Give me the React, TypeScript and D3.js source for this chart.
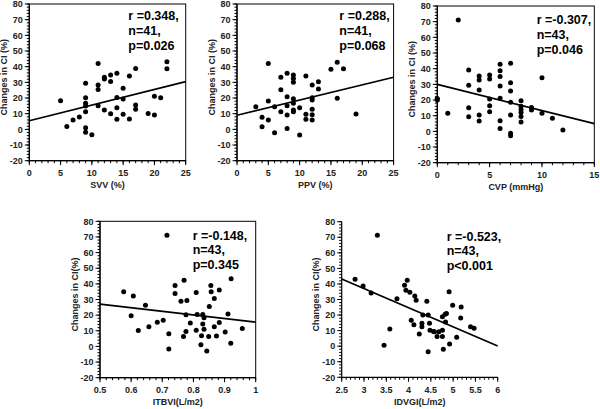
import React from 'react';
import * as d3 from 'd3';

type Pt = [number, number];

// ---- data ----
const svvPoints: Pt[] = [
  [5, 18.3], [6, 1.9], [7, 6.0], [8, 7.9], [9, 29.4], [9, 20.2], [9, 16.6], [9, 14.9], [9, 11.3], [9, 1.0], [9, -1.9],
  [10, -3.4], [11, 42.1], [11, 28.3], [11, 25.5], [11, 15.1], [12, 33.2], [12, 32.1], [12, 12.3], [13, 34.7], [13, 30.6],
  [13, 10.0], [14, 35.8], [14, 20.4], [14, 13.8], [14, 6.4], [15, 26.2], [15, 19.4], [15, 9.6], [16, 34.0], [16, 6.6],
  [17, 38.9], [17, 15.5], [17, 12.8], [19, 10.2], [20, 21.1], [20, 9.1], [21, 20.2], [22, 43.2], [22, 38.7],
];
const ppvPoints: Pt[] = [
  [3, 14.5], [4, 7.7], [4, 1.7], [5, 42.1], [5, 18.1], [5, 6.0], [6, 14.5], [6, -2.1], [7, 33.2], [7, 25.3], [7, 11.3],
  [8, 35.8], [8, 20.8], [8, 15.1], [8, 9.1], [8, 0.6], [9, 34.7], [9, 32.5], [9, 30.0], [9, 19.6], [9, 16.6], [9, 12.3],
  [9, 11.3], [10, 13.8], [10, -3.6], [11, 34.0], [11, 9.6], [11, 6.4], [12, 28.3], [12, 20.2], [12, 18.7], [12, 12.8],
  [12, 9.3], [12, 6.0], [13, 30.4], [13, 25.7], [15, 38.3], [16, 42.8], [16, 19.8], [17, 38.7], [19, 9.8],
];
const cvpPoints: Pt[] = [
  [0, 21], [0, 20], [1, 11.5], [2, 71], [3, 39.2], [3, 29.4], [3, 15.1], [3, 9.4], [4, 35.3], [4, 32.8], [4, 26.4],
  [4, 10.4], [4, 6.6], [5, 36.0], [5, 33.4], [5, 20.7], [5, 16.4], [5, 12.5], [6, 42.8], [6, 38.7], [6, 35], [6, 28.9],
  [6, 21.1], [6, 6.8], [6, 1.9], [7, 43.4], [7, 31.1], [7, 25.8], [7, 18.5], [7, 10.4], [7, -1.2], [7, -2.8], [8, 19.6],
  [8, 16], [8, 14], [8, 12], [8, 9.5], [8, 6], [9, 15.3], [9, 13.6], [10, 34.2], [10, 11.5], [11, 8.3], [12, 0.9],
];
const itbviPoints: Pt[] = [
  [0.576, 34.9], [0.607, 32.3], [0.6, 19.6], [0.623, 10.2], [0.646, 26.4], [0.657, 12.6], [0.684, 15.5], [0.703, 16.8],
  [0.715, 71.1], [0.721, 8.1], [0.721, -1.7], [0.741, 39.0], [0.741, 33.9], [0.76, 28.9], [0.77, 42.3], [0.779, 29.4],
  [0.776, 20.2], [0.768, 6.4], [0.776, 9.6], [0.79, 14.9], [0.809, 34.5], [0.809, 10.4], [0.812, 20.4], [0.826, 6.8],
  [0.83, 20.4], [0.83, 14.3], [0.834, 18.3], [0.834, 10.9], [0.824, 1.1], [0.843, -3.0], [0.849, 6.4], [0.851, 25.6],
  [0.856, 39.0], [0.857, 34.9], [0.867, 30.6], [0.883, 36.0], [0.867, 12.6], [0.874, 6.6], [0.883, 15.3], [0.902, 9.2],
  [0.911, 20.8], [0.921, 43.2], [0.92, 2.1], [0.957, 11.5],
];
const idvgiPoints: Pt[] = [
  [2.8, 43.0], [2.98, 38.7], [3.16, 34.2], [3.3, 71.3], [3.45, 0.6], [3.58, 11.0], [3.74, 30.5], [3.91, 39.1],
  [3.97, 42.3], [3.94, 35.9], [4.03, 34.6], [4.14, 32.2], [4.17, 29.5], [4.06, 16.6], [4.12, 13.8], [4.41, 28.8],
  [4.32, 20.0], [4.44, 20.0], [4.3, 12.5], [4.3, 14.8], [4.24, 7.8], [4.47, 14.7], [4.48, 10.2], [4.44, -3.5],
  [4.58, 9.3], [4.64, 6.3], [4.68, 9.3], [4.76, 10.2], [4.76, 6.3], [4.78, -2.0], [4.76, 18.9], [4.82, 20.5],
  [4.83, 15.5], [4.91, 35.0], [4.92, 1.4], [4.99, 26.3], [5.08, 5.7], [5.17, 18.1], [5.18, 25.2], [5.39, 12.5],
  [5.47, 11.5], [4.85, 21.0], [4.56, 9.5],
];

// regression lines [intercept, slope]
const svvFit = [5.5, 1.0];
const ppvFit = [9.0, 0.97];
const cvpFit = [30.0, -1.67];
const itbviFit = [38.5, -23.0];
const idvgiFit = [73.9, -12.29];

const svvStats = ['r =0.348,', 'n=41,', 'p=0.026'];
const ppvStats = ['r =0.288,', 'n=41,', 'p=0.068'];
const cvpStats = ['r =-0.307,', 'n=43,', 'p=0.046'];
const itbviStats = ['r =-0.148,', 'n=43,', 'p=0.345'];
const idvgiStats = ['r =-0.523,', 'n=43,', 'p<0.001'];

const yTickValues = [-20, -10, 0, 10, 20, 30, 40, 50, 60, 70, 80];
const svvTicks = [0, 5, 10, 15, 20, 25];
const ppvTicks = [0, 5, 10, 15, 20, 25];
const cvpTicks = [0, 5, 10, 15];
const itbviTicks = [0.5, 0.6, 0.7, 0.8, 0.9, 1];
const idvgiTicks = [2.5, 3, 3.5, 4, 4.5, 5, 5.5, 6];

// ---- layout ----
const FONT = '"Liberation Sans", Arial, Helvetica, sans-serif';

interface PanelCfg {
  points: Pt[];
  fit: number[];
  stats: string[];
  xTicks: number[];
  minorStep: number;
  xTitle: string;
  yTitle: string;
  left: number; right: number; top: number; bottom: number;
  statX: number; statY: number;
  box: boolean;
}

const panels: PanelCfg[] = [
  { points: svvPoints, fit: svvFit, stats: svvStats, xTicks: svvTicks, minorStep: 1, xTitle: 'SVV (%)', yTitle: 'Changes in CI (%)',
    left: 29.3, right: 185.7, top: 4, bottom: 160.7, statX: 128.3, statY: 20, box: true },
  { points: ppvPoints, fit: ppvFit, stats: ppvStats, xTicks: ppvTicks, minorStep: 1, xTitle: 'PPV (%)', yTitle: 'Changes in CI (%)',
    left: 237, right: 393.6, top: 4, bottom: 160.7, statX: 339.3, statY: 20, box: true },
  { points: cvpPoints, fit: cvpFit, stats: cvpStats, xTicks: cvpTicks, minorStep: 1, xTitle: 'CVP (mmHg)', yTitle: 'Changes in CI (%)',
    left: 437.3, right: 594.3, top: 6, bottom: 162.7, statX: 536.7, statY: 24, box: true },
  { points: itbviPoints, fit: itbviFit, stats: itbviStats, xTicks: itbviTicks, minorStep: 0.02, xTitle: 'ITBVI(L/m2)', yTitle: 'Changes in CI(%)',
    left: 100, right: 255.7, top: 221.3, bottom: 377.7, statX: 192.7, statY: 239.5, box: true },
  { points: idvgiPoints, fit: idvgiFit, stats: idvgiStats, xTicks: idvgiTicks, minorStep: 0.1, xTitle: 'IDVGI(L/m2)', yTitle: 'Changes in CI(%)',
    left: 341.7, right: 497.7, top: 221.7, bottom: 377.3, statX: 446.7, statY: 240.5, box: false },
];

const fmt = (v: number) => String(+v.toFixed(3));

function Panel({ cfg }: { cfg: PanelCfg }) {
  const xd: [number, number] = [cfg.xTicks[0], cfg.xTicks[cfg.xTicks.length - 1]];
  const x = d3.scaleLinear().domain(xd).range([cfg.left, cfg.right]);
  const y = d3.scaleLinear().domain([-20, 80]).range([cfg.bottom, cfg.top]);
  const nMinorX = Math.round((xd[1] - xd[0]) / cfg.minorStep);
  const xMinor = d3.range(0, nMinorX + 1).map((i) => xd[0] + i * cfg.minorStep);
  const yMinor = d3.range(0, 51).map((i) => -20 + i * 2);
  const line = d3.line<number>().x((v) => x(v)).y((v) => y(cfg.fit[0] + cfg.fit[1] * v));
  const midY = (cfg.top + cfg.bottom) / 2;
  const midX = (cfg.left + cfg.right) / 2;
  const tickColor = '#222';
  return (
    <g>
      {cfg.box && (
        <rect x={cfg.left} y={cfg.top} width={cfg.right - cfg.left} height={cfg.bottom - cfg.top}
          fill="none" stroke="#000" strokeWidth={1} />
      )}
      <line x1={cfg.left} x2={cfg.left} y1={cfg.top} y2={cfg.bottom} stroke="#000" strokeWidth={1.2} />
      <line x1={cfg.left} x2={cfg.right} y1={cfg.bottom} y2={cfg.bottom} stroke="#000" strokeWidth={1.2} />
      {xMinor.map((v, i) => (
        <line key={'xm' + i} x1={x(v)} x2={x(v)} y1={cfg.bottom} y2={cfg.bottom + 2.5} stroke="#000" strokeWidth={1} />
      ))}
      {cfg.xTicks.map((v, i) => (
        <g key={'xt' + i}>
          <line x1={x(v)} x2={x(v)} y1={cfg.bottom} y2={cfg.bottom + 4.5} stroke="#000" strokeWidth={1} />
          <text x={x(v)} y={cfg.bottom + 15.5} textAnchor="middle" fontSize={9} fontWeight="bold" fill={tickColor} fontFamily={FONT}>
            {fmt(v)}
          </text>
        </g>
      ))}
      {yMinor.map((v, i) => (
        <line key={'ym' + i} x1={cfg.left - 2.5} x2={cfg.left} y1={y(v)} y2={y(v)} stroke="#000" strokeWidth={1} />
      ))}
      {yTickValues.map((v, i) => (
        <g key={'yt' + i}>
          <line x1={cfg.left - 4.5} x2={cfg.left} y1={y(v)} y2={y(v)} stroke="#000" strokeWidth={1} />
          <text x={cfg.left - 6.5} y={y(v) + 3.2} textAnchor="end" fontSize={9} fontWeight="bold" fill={tickColor} fontFamily={FONT}>
            {v}
          </text>
        </g>
      ))}
      <text x={midX} y={cfg.bottom + 27.5} textAnchor="middle" fontSize={9} fontWeight="bold" fill={tickColor} fontFamily={FONT}>
        {cfg.xTitle}
      </text>
      <text transform={`translate(${cfg.left - 22.5},${midY - 5}) rotate(-90)`} textAnchor="middle" fontSize={9}
        fontWeight="bold" fill={tickColor} fontFamily={FONT}>
        {cfg.yTitle}
      </text>
      <path d={line(xd) || ''} fill="none" stroke="#000" strokeWidth={1.7} />
      {cfg.points.map((p, i) => (
        <circle key={'p' + i} cx={x(p[0])} cy={y(p[1])} r={2.5} fill="#000" />
      ))}
      {cfg.stats.map((s, i) => (
        <text key={'s' + i} x={cfg.statX} y={cfg.statY + i * 14.8} fontSize={12.5} fontWeight="bold" fill="#000" fontFamily={FONT}>
          {s}
        </text>
      ))}
    </g>
  );
}

export default function App() {
  return (
    <svg width={600} height={409} style={{ position: 'absolute', left: 0, top: 0, background: '#fff' }}>
      <rect x={0} y={0} width={600} height={409} fill="#fff" />
      {panels.map((p, i) => (
        <Panel key={i} cfg={p} />
      ))}
    </svg>
  );
}
